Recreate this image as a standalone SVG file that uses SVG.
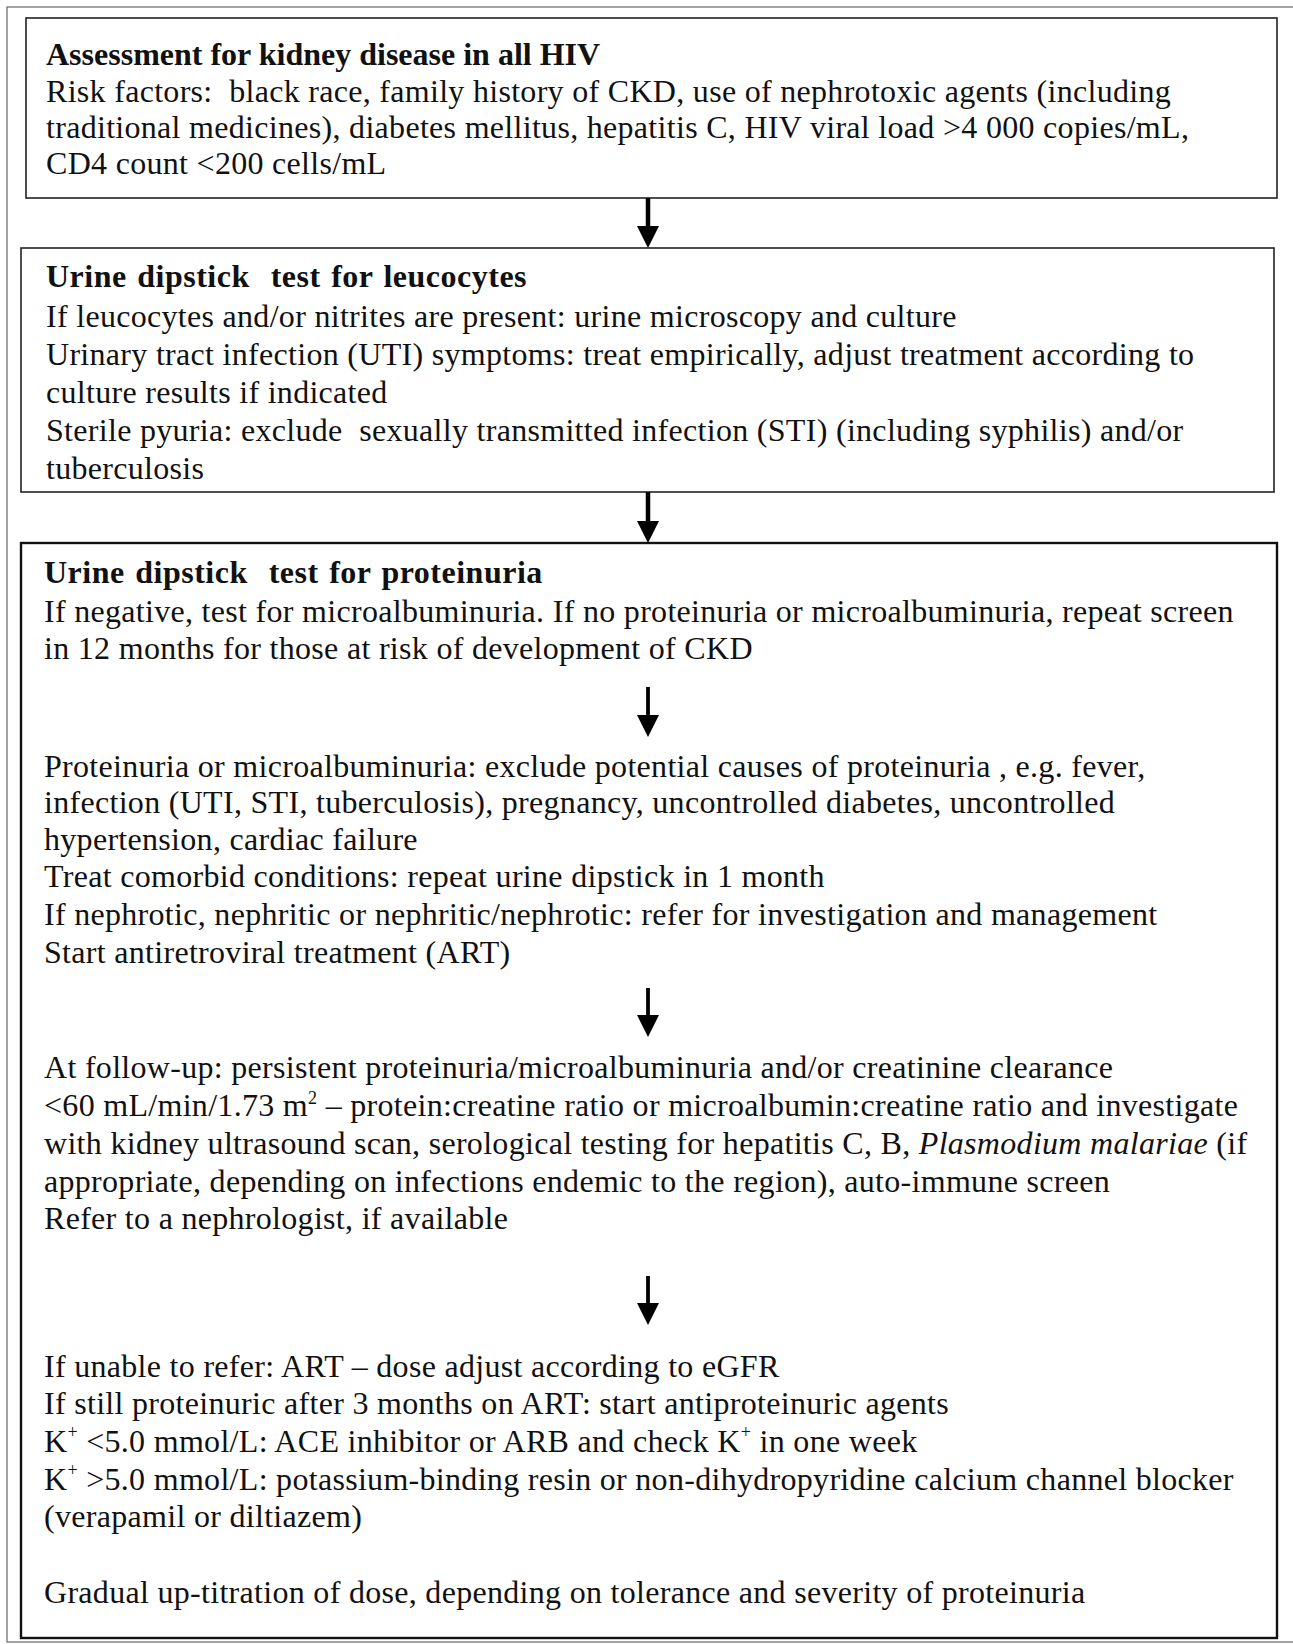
<svg xmlns="http://www.w3.org/2000/svg" width="1293" height="1644" viewBox="0 0 1293 1644">
<style>
.t { font-family: "Liberation Serif", "Times New Roman", serif; font-size: 32px; letter-spacing: 0.3px; fill: #111; white-space: pre; }
.b { font-weight: bold; letter-spacing: 0px; }
.bw { letter-spacing: 0.5px; word-spacing: 2px; }
.box { fill: #fff; stroke: #222; stroke-width: 1.6; }
.box3 { fill: #fff; stroke: #111; stroke-width: 2.4; }
.frame { fill: none; stroke: #666; stroke-width: 1.2; }
.conn { stroke: #000; stroke-width: 4.5; fill: none; }
.conn2 { stroke: #000; stroke-width: 3.8; fill: none; }
</style>
<defs>
<marker id="ah" viewBox="0 0 22 22" refX="0" refY="11" markerWidth="22" markerHeight="22" markerUnits="userSpaceOnUse" orient="auto">
<path d="M0,0 L22,11 L0,22 z" fill="#000"/>
</marker>
</defs>
<rect width="1293" height="1644" fill="#fff"/>
<rect class="frame" x="7" y="7" width="1300" height="1635"/>

<g id="node-assessment">
<rect class="box" x="26" y="18" width="1251" height="180"/>
<text class="t b" x="46" y="65">Assessment for kidney disease in all HIV</text>
<text class="t" x="46" y="102">Risk factors:  black race, family history of CKD, use of nephrotoxic agents (including</text>
<text class="t" x="46" y="138">traditional medicines), diabetes mellitus, hepatitis C, HIV viral load &gt;4 000 copies/mL,</text>
<text class="t" x="46" y="174">CD4 count &lt;200 cells/mL</text>
</g>

<g id="node-leucocytes">
<rect class="box" x="21" y="248" width="1253" height="244"/>
<text class="t b bw" x="46" y="287">Urine dipstick  test for leucocytes</text>
<text class="t" x="46" y="327">If leucocytes and/or nitrites are present: urine microscopy and culture</text>
<text class="t" x="46" y="365">Urinary tract infection (UTI) symptoms: treat empirically, adjust treatment according to</text>
<text class="t" x="46" y="403">culture results if indicated</text>
<text class="t" x="46" y="441">Sterile pyuria: exclude  sexually transmitted infection (STI) (including syphilis) and/or</text>
<text class="t" x="46" y="479">tuberculosis</text>
</g>

<g id="node-proteinuria">
<rect class="box3" x="21" y="543" width="1256" height="1095"/>
<text class="t b bw" x="44" y="583">Urine dipstick  test for proteinuria</text>
<text class="t" x="44" y="622">If negative, test for microalbuminuria. If no proteinuria or microalbuminuria, repeat screen</text>
<text class="t" x="44" y="659">in 12 months for those at risk of development of CKD</text>

<text class="t" x="44" y="777">Proteinuria or microalbuminuria: exclude potential causes of proteinuria , e.g. fever,</text>
<text class="t" x="44" y="813">infection (UTI, STI, tuberculosis), pregnancy, uncontrolled diabetes, uncontrolled</text>
<text class="t" x="44" y="850">hypertension, cardiac failure</text>
<text class="t" x="44" y="887">Treat comorbid conditions: repeat urine dipstick in 1 month</text>
<text class="t" x="44" y="925">If nephrotic, nephritic or nephritic/nephrotic: refer for investigation and management</text>
<text class="t" x="44" y="963">Start antiretroviral treatment (ART)</text>

<text class="t" x="44" y="1078">At follow-up: persistent proteinuria/microalbuminuria and/or creatinine clearance</text>
<text class="t" x="44" y="1116">&lt;60 mL/min/1.73 m<tspan font-size="18" dy="-12">2</tspan><tspan dy="12"> – protein:creatine ratio or microalbumin:creatine ratio and investigate</tspan></text>
<text class="t" x="44" y="1154">with kidney ultrasound scan, serological testing for hepatitis C, B, <tspan font-style="italic">Plasmodium malariae</tspan> (if</text>
<text class="t" x="44" y="1192">appropriate, depending on infections endemic to the region), auto-immune screen</text>
<text class="t" x="44" y="1229">Refer to a nephrologist, if available</text>

<text class="t" x="44" y="1377">If unable to refer: ART – dose adjust according to eGFR</text>
<text class="t" x="44" y="1414">If still proteinuric after 3 months on ART: start antiproteinuric agents</text>
<text class="t" x="44" y="1452">K<tspan font-size="18" dy="-14">+</tspan><tspan dy="14"> &lt;5.0 mmol/L: ACE inhibitor or ARB and check K</tspan><tspan font-size="18" dy="-14">+</tspan><tspan dy="14"> in one week</tspan></text>
<text class="t" x="44" y="1490">K<tspan font-size="18" dy="-14">+</tspan><tspan dy="14"> &gt;5.0 mmol/L: potassium-binding resin or non-dihydropyridine calcium channel blocker</tspan></text>
<text class="t" x="44" y="1527">(verapamil or diltiazem)</text>
<text class="t" x="44" y="1603">Gradual up-titration of dose, depending on tolerance and severity of proteinuria</text>
</g>

<g id="connectors">
<line class="conn" x1="648" y1="198" x2="648" y2="226" marker-end="url(#ah)"/>
<line class="conn" x1="648" y1="492" x2="648" y2="521" marker-end="url(#ah)"/>
<line class="conn2" x1="648" y1="687" x2="648" y2="715" marker-end="url(#ah)"/>
<line class="conn2" x1="648" y1="988" x2="648" y2="1015" marker-end="url(#ah)"/>
<line class="conn2" x1="648" y1="1276" x2="648" y2="1303" marker-end="url(#ah)"/>
</g>
</svg>
